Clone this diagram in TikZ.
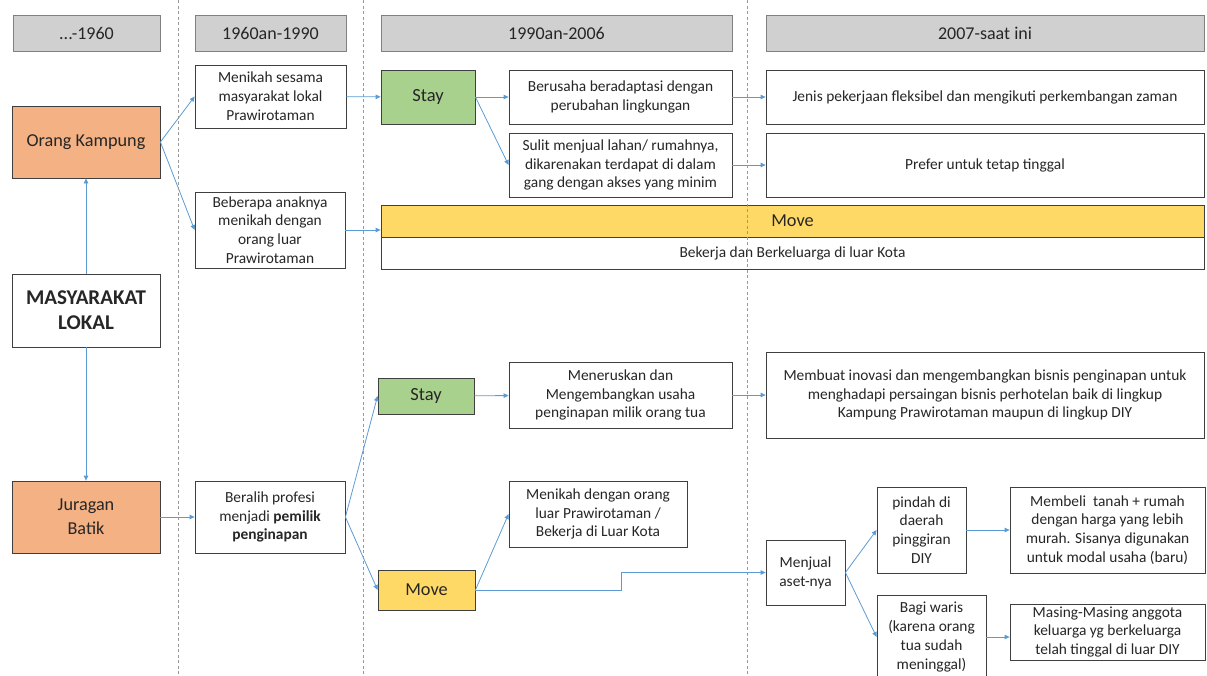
\documentclass[tikz,border=0pt]{standalone}
\usepackage{fontspec}
\setmainfont{Carlito}
\usetikzlibrary{arrows.meta,calc}
\definecolor{tinta}{HTML}{262626}
\definecolor{garis}{HTML}{3F3F3F}
\definecolor{panah}{HTML}{5B9BD5}
\definecolor{abu}{HTML}{D0D0D0}
\definecolor{oranye}{HTML}{F4B183}
\definecolor{hijau}{HTML}{A9D18E}
\definecolor{kuning}{HTML}{FFD966}
\tikzset{wh/.style 2 args={minimum width=#1pt, minimum height=#2pt}}
\tikzstyle{migration chart}=[
    x=1pt,y=-1pt,
    ->,>={Triangle[length=5pt,width=4.5pt]},
    every node/.style={
        align=center, inner sep=1pt, text=tinta,
        font=\fontsize{15.4}{18.8}\selectfont,
    },
    every edge/.style={draw=panah, line width=0.8pt},
]
\tikzstyle{kotak}=[draw=garis, line width=0.8pt, fill=white]
\tikzstyle{periode}=[kotak, draw=gray, fill=abu, font=\fontsize{18}{20}\selectfont]
\tikzstyle{asal}=[kotak, fill=oranye, font=\fontsize{18.2}{24}\selectfont]
\tikzstyle{stay}=[kotak, fill=hijau, font=\fontsize{18.5}{22}\selectfont]
\tikzstyle{move}=[kotak, fill=kuning, font=\fontsize{18.3}{22}\selectfont]
\tikzstyle{pemisah}=[draw=gray!80, line width=0.6pt, dash pattern=on 3pt off 2.5pt]

\begin{document}
\begin{tikzpicture}[migration chart]
    \useasboundingbox (0,0) rectangle (1207,675);

    % kepala kolom
    \node[periode, wh={147}{36}] (p1) at (86.5,33) {...-1960};
    \node[periode, wh={151}{36}] (p2) at (270.5,33) {1960an-1990};
    \node[periode, wh={351}{36}] (p3) at (556.5,33) {1990an-2006};
    \node[periode, wh={438}{36}] (p4) at (985,33) {2007-saat ini};

    % kolom pertama
    \node[asal, wh={148}{72}] (kampung) at (86,142) {Orang Kampung};
    \node[kotak, wh={148}{73}, font=\fontsize{21}{25}\selectfont\bfseries] (lokal) at (86,310.5) {MASYARAKAT\\LOKAL};
    \node[asal, wh={148}{72}] (juragan) at (86,517) {Juragan\\Batik};

    % kolom kedua
    \node[kotak, wh={151}{63}] (sesama) at (270.5,96.5) {Menikah sesama\\masyarakat lokal\\Prawirotaman};
    \node[kotak, wh={150}{76}] (anak) at (270,230) {Beberapa anaknya\\menikah dengan\\orang luar\\Prawirotaman};
    \node[kotak, wh={150}{72}] (beralih) at (270,517) {Beralih profesi\\menjadi \textbf{pemilik}\\\textbf{penginapan}};

    % kolom ketiga
    \node[stay, wh={94}{54}] (stayA) at (428,97) {Stay};
    \node[kotak, wh={223}{54}] (adaptasi) at (620.5,97) {Berusaha beradaptasi dengan\\perubahan lingkungan};
    \node[kotak, wh={223}{64}] (sulit) at (620.5,165) {Sulit menjual lahan/ rumahnya,\\dikarenakan terdapat di dalam\\gang dengan akses yang minim};
    \node[move, wh={823}{32}] (moveA) at (792.5,221) {Move};
    \node[kotak, wh={823}{32}] (kota) at (792.5,253) {Bekerja dan Berkeluarga di luar Kota};
    \node[stay, wh={96}{36}] (stayB) at (426,396) {Stay};
    \node[kotak, wh={223}{66}] (meneruskan) at (620.5,395) {Meneruskan dan\\Mengembangkan usaha\\penginapan milik orang tua};
    \node[kotak, wh={178}{66}] (luar) at (598,514) {Menikah dengan orang\\luar Prawirotaman /\\Bekerja di Luar Kota};
    \node[move, wh={97}{40}] (moveB) at (426.5,590) {Move};

    % kolom keempat
    \node[kotak, wh={438}{54}] (jenis) at (985,97) {Jenis pekerjaan fleksibel dan mengikuti perkembangan zaman};
    \node[kotak, wh={438}{64}] (prefer) at (985,165) {Prefer untuk tetap tinggal};
    \node[kotak, wh={438}{86}] (inovasi) at (985,395) {Membuat inovasi dan mengembangkan bisnis penginapan untuk\\menghadapi persaingan bisnis perhotelan baik di lingkup\\Kampung Prawirotaman maupun di lingkup DIY};
    \node[kotak, wh={79}{65}] (menjual) at (805.5,572.5) {Menjual\\aset-nya};
    \node[kotak, wh={89}{86}] (pindah) at (921.5,530) {pindah di\\daerah\\pinggiran\\DIY};
    \node[kotak, wh={195}{86}] (membeli) at (1107.5,530) {Membeli\ \ tanah + rumah\\dengan harga yang lebih\\murah. Sisanya digunakan\\untuk modal usaha (baru)};
    \node[kotak, wh={109}{84}] (waris) at (931.5,637) {Bagi waris\\(karena orang\\tua sudah\\meninggal)};
    \node[kotak, wh={195}{56}] (masing) at (1107.5,632) {Masing-Masing anggota\\keluarga yg berkeluarga\\telah tinggal di luar DIY};

    \coordinate (belok) at (621,590);

    \path
        (lokal) edge (kampung)
        (lokal) edge (juragan)
        (kampung.east) edge (sesama.west)
        (kampung.east) edge (anak.west)
        (juragan) edge (beralih)
        (sesama) edge (stayA)
        (anak.east) edge (anak.east -| moveA.west)
        (stayA.east) edge (adaptasi.west)
        (stayA.east) edge (sulit.west)
        (adaptasi) edge (jenis)
        (sulit) edge (prefer)
        (beralih.east) edge (stayB.west)
        (beralih.east) edge (moveB.west)
        (stayB) edge (meneruskan)
        (meneruskan) edge (inovasi)
        (moveB.east) edge (luar.west)
        (menjual.east) edge (pindah.west)
        (menjual.east) edge (waris.west)
        (pindah) edge (membeli)
        (waris.east) edge (waris.east -| masing.west)
    ;
    \draw[draw=panah, line width=0.8pt] (moveB.east) -- (belok) |- (menjual.west);

    % garis pemisah antar periode
    \foreach \x in {178,363,747}
        \draw[pemisah, -] (\x,0) -- (\x,675);
\end{tikzpicture}
\end{document}
